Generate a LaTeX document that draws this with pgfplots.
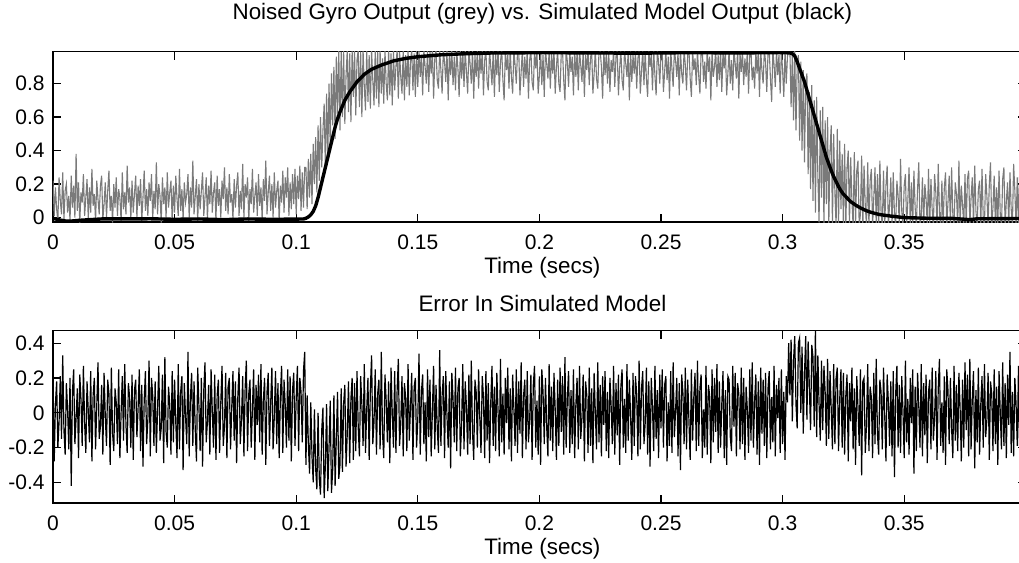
\documentclass[border=0pt]{standalone}
\usepackage{fontspec}
\setmainfont{Liberation Sans}
\usepackage{pgfplots}
\pgfplotsset{compat=1.18}

\pgfplotsset{
  mlab/.style={
    scale only axis, width=486.4pt, anchor=south west,
    xmin=0, xmax=0.4,
    axis line style={line width=0.8pt},
    tick align=inside, tick pos=both, major tick length=4pt,
    every tick/.style={black, line width=0.6pt},
    xtick={0,0.05,0.1,0.15,0.2,0.25,0.3,0.35},
    xticklabels={0,0.05,0.1,0.15,0.2,0.25,0.3,0.35},
    xticklabel style={font=\fontsize{10.5}{12}\selectfont, inner sep=0pt, yshift=-6.3pt},
    yticklabel style={font=\fontsize{10.5}{12}\selectfont, inner sep=0pt, xshift=-4pt},
    xlabel={Time (secs)},
    xlabel style={at={(axis description cs:0.5,0)}, anchor=center, yshift=-22.8pt,
      xshift=1.5pt, font=\fontsize{11.2}{13}\selectfont},
    title style={at={(axis description cs:0.5,1)}, anchor=center, xshift=1.5pt,
      font=\fontsize{11.2}{13}\selectfont},
  }
}

\begin{document}
\begin{tikzpicture}
\useasboundingbox (0,0) rectangle (509.5pt,281.5pt);

% top: noised gyro output (grey) and model output (black), one sample each 0.5 ms
\begin{axis}[mlab, at={(26.5pt,170.35pt)}, height=85.3pt,
  ymin=-0.028, ymax=0.99,
  ytick={0,0.2,0.4,0.6,0.8}, yticklabels={0,0.2,0.4,0.6,0.8},
  title={Noised Gyro Output (grey) vs. Simulated Model Output (black)},
  title style={yshift=12.85pt}]
\addplot[black!52, line width=0.55pt] table[x expr=\coordindex*0.0005, y index=0, header=false, row sep=\\] {
0.22\\0.01\\0.18\\0.05\\-0.02\\0.24\\0.10\\0.02\\0.27\\-0.01\\
0.16\\0.20\\0.03\\0.13\\-0.02\\0.25\\0.06\\0.19\\0.00\\0.38\\
0.04\\0.21\\-0.03\\0.15\\0.09\\0.26\\0.01\\0.12\\0.23\\-0.01\\
0.18\\0.03\\0.29\\0.07\\0.14\\-0.02\\0.22\\0.11\\0.02\\0.19\\
0.25\\-0.01\\0.08\\0.21\\0.00\\0.16\\0.28\\0.04\\0.13\\-0.03\\
0.20\\0.06\\0.24\\0.01\\0.17\\0.12\\-0.02\\0.27\\0.05\\0.15\\
0.02\\0.31\\0.09\\0.18\\-0.01\\0.22\\0.03\\0.14\\0.25\\0.00\\
0.19\\0.07\\0.23\\-0.02\\0.12\\0.28\\0.04\\0.17\\0.01\\0.21\\
0.10\\0.26\\-0.01\\0.16\\0.05\\0.33\\0.02\\0.20\\0.13\\-0.03\\
0.24\\0.08\\0.18\\0.00\\0.27\\0.06\\0.15\\0.22\\-0.02\\0.19\\
0.03\\0.25\\0.11\\0.01\\0.29\\0.04\\0.17\\-0.01\\0.21\\0.09\\
0.14\\0.26\\0.00\\0.18\\0.06\\0.34\\0.02\\0.13\\0.23\\-0.02\\
0.20\\0.05\\0.16\\0.27\\0.01\\0.12\\0.24\\-0.01\\0.19\\0.08\\
0.28\\0.03\\0.15\\0.21\\-0.02\\0.25\\0.07\\0.17\\0.00\\0.22\\
0.11\\0.30\\0.04\\0.18\\0.02\\0.26\\0.09\\0.14\\-0.01\\0.23\\
0.06\\0.19\\0.27\\0.01\\0.16\\0.05\\0.32\\0.00\\0.20\\0.12\\
0.24\\-0.02\\0.17\\0.08\\0.29\\0.03\\0.13\\0.21\\0.01\\0.26\\
0.07\\0.18\\-0.01\\0.23\\0.10\\0.34\\0.02\\0.15\\0.25\\0.04\\
0.20\\0.00\\0.27\\0.06\\0.16\\0.22\\-0.02\\0.19\\0.09\\0.28\\
0.03\\0.24\\0.12\\0.30\\0.01\\0.21\\0.05\\0.26\\0.08\\0.29\\
0.02\\0.25\\0.11\\0.31\\0.04\\0.27\\0.06\\0.30\\
0.30\\0.05\\0.35\\0.12\\0.38\\0.08\\0.44\\0.20\\0.48\\0.15\\
0.55\\0.22\\0.60\\0.30\\0.52\\0.68\\0.28\\0.74\\0.36\\0.80\\
0.42\\0.86\\0.55\\0.90\\0.47\\0.96\\0.62\\1.0\\0.52\\0.99\\
0.60\\1.0\\0.56\\0.85\\1.0\\0.63\\0.98\\0.57\\1.0\\0.72\\
1.0\\0.61\\0.94\\1.0\\0.66\\0.99\\0.60\\1.0\\0.78\\0.64\\
1.0\\0.69\\0.97\\0.65\\1.0\\0.82\\0.67\\1.0\\0.71\\0.99\\
0.66\\1.0\\0.74\\0.95\\0.68\\1.0\\0.80\\0.70\\1.0\\0.73\\
0.98\\0.67\\1.0\\0.76\\0.90\\1.0\\0.71\\0.99\\0.84\\0.74\\
1.0\\0.70\\0.97\\0.78\\1.0\\0.73\\0.93\\1.0\\0.76\\0.98\\
0.72\\1.0\\
0.78\\1.0\\0.84\\0.97\\0.73\\1.0\\0.90\\0.80\\1.0\\0.75\\
0.99\\0.86\\1.0\\0.71\\0.95\\1.0\\0.82\\0.77\\1.0\\0.88\\
0.74\\1.0\\0.93\\0.81\\1.0\\0.70\\0.98\\0.85\\1.0\\0.79\\
0.96\\0.76\\1.0\\0.89\\0.72\\1.0\\0.83\\0.99\\0.78\\1.0\\
0.87\\0.74\\1.0\\0.92\\0.80\\1.0\\0.71\\0.97\\0.84\\1.0\\
0.77\\0.99\\0.86\\1.0\\0.73\\0.94\\1.0\\0.81\\0.76\\1.0\\
0.90\\0.79\\1.0\\0.72\\0.98\\0.85\\1.0\\0.75\\0.93\\1.0\\
0.82\\0.70\\1.0\\0.88\\0.97\\0.77\\1.0\\0.84\\0.74\\1.0\\
0.91\\0.80\\0.99\\1.0\\0.73\\0.87\\1.0\\0.78\\0.96\\0.83\\
1.0\\0.71\\0.94\\1.0\\0.81\\0.76\\1.0\\0.89\\0.99\\0.74\\
0.85\\1.0\\0.79\\0.97\\0.72\\1.0\\0.92\\0.83\\1.0\\0.77\\
0.98\\0.86\\1.0\\0.74\\0.90\\1.0\\0.80\\0.75\\0.99\\1.0\\
0.82\\0.70\\1.0\\0.93\\0.78\\1.0\\0.87\\0.96\\0.73\\1.0\\
0.84\\0.99\\0.76\\1.0\\0.91\\0.81\\1.0\\0.72\\0.97\\0.88\\
1.0\\0.79\\0.95\\1.0\\0.74\\0.86\\1.0\\0.83\\0.77\\0.99\\
1.0\\0.90\\0.71\\1.0\\0.85\\0.98\\0.80\\1.0\\0.75\\0.94\\
0.87\\1.0\\0.78\\0.96\\1.0\\0.73\\0.89\\1.0\\0.82\\0.76\\
1.0\\0.92\\0.84\\0.99\\0.70\\1.0\\0.81\\0.97\\0.86\\1.0\\
0.77\\0.95\\1.0\\0.74\\0.88\\1.0\\0.79\\0.99\\0.83\\0.72\\
1.0\\0.90\\0.97\\0.76\\1.0\\0.85\\0.73\\1.0\\0.93\\0.80\\
0.98\\1.0\\0.75\\0.87\\1.0\\0.82\\0.96\\0.71\\1.0\\0.89\\
0.78\\1.0\\0.94\\0.84\\0.99\\0.73\\1.0\\0.86\\0.80\\1.0\\
0.91\\0.76\\0.98\\1.0\\0.83\\0.72\\1.0\\0.88\\0.95\\0.79\\
1.0\\0.85\\0.74\\0.99\\1.0\\0.81\\0.93\\0.77\\1.0\\0.87\\
0.96\\0.70\\1.0\\0.84\\0.90\\1.0\\0.78\\0.97\\0.82\\1.0\\
0.75\\0.99\\0.89\\1.0\\0.73\\0.86\\1.0\\0.80\\0.94\\0.76\\
1.0\\0.92\\0.83\\1.0\\0.71\\0.98\\0.87\\1.0\\0.79\\0.95\\
0.84\\1.0\\0.74\\0.97\\1.0\\0.82\\0.90\\0.77\\1.0\\0.86\\
0.99\\0.72\\1.0\\0.88\\0.80\\1.0\\0.93\\0.75\\0.98\\1.0\\
0.83\\0.69\\1.0\\0.91\\0.78\\1.0\\0.85\\0.97\\0.74\\1.0\\
0.88\\0.72\\1.0\\0.80\\0.96\\1.0\\
1.0\\0.66\\0.98\\0.58\\1.0\\0.52\\0.90\\0.97\\0.46\\0.93\\
0.40\\0.88\\0.33\\0.80\\0.86\\0.26\\0.75\\0.17\\0.79\\0.10\\
0.70\\0.03\\0.72\\0.25\\-0.03\\0.64\\0.12\\0.66\\-0.05\\0.58\\
0.08\\0.60\\-0.05\\0.40\\0.55\\-0.05\\0.50\\0.15\\-0.05\\0.53\\
-0.05\\0.46\\0.05\\0.38\\-0.05\\0.44\\-0.05\\0.30\\0.40\\-0.05\\
0.36\\0.10\\-0.05\\0.39\\-0.05\\0.28\\0.34\\-0.05\\0.02\\0.37\\
-0.05\\0.31\\0.07\\-0.05\\0.33\\-0.05\\0.22\\0.29\\-0.05\\0.12\\
0.30\\-0.05\\0.26\\-0.05\\0.34\\0.03\\-0.05\\0.28\\-0.05\\0.19\\
0.31\\-0.05\\0.08\\0.24\\-0.05\\0.27\\0.02\\-0.05\\0.22\\0.13\\
-0.05\\0.35\\0.04\\-0.05\\0.19\\0.26\\-0.05\\0.10\\0.30\\-0.05\\
0.21\\-0.05\\0.28\\0.06\\-0.05\\0.17\\0.33\\-0.05\\0.01\\0.24\\
-0.05\\0.20\\0.11\\-0.05\\0.29\\-0.05\\0.23\\0.05\\-0.05\\0.26\\
0.15\\-0.05\\0.32\\0.03\\-0.05\\0.22\\-0.05\\0.18\\0.27\\-0.05\\
0.09\\0.25\\-0.05\\0.30\\0.02\\-0.05\\0.21\\0.14\\-0.05\\0.34\\
-0.05\\0.19\\0.07\\-0.05\\0.26\\-0.05\\0.23\\0.28\\-0.05\\0.12\\
0.24\\-0.05\\0.31\\0.04\\-0.05\\0.17\\0.22\\-0.05\\0.29\\0.00\\
-0.05\\0.26\\0.13\\-0.05\\0.20\\0.33\\-0.05\\0.06\\0.25\\-0.05\\
0.18\\-0.05\\0.28\\0.02\\-0.05\\0.23\\0.30\\-0.05\\0.10\\0.21\\
-0.05\\0.27\\0.05\\-0.05\\0.32\\0.16\\-0.05\\0.24\\-0.05\\0.29\\
0.08\\-0.05\\0.22\\0.19\\-0.05\\
};
\addplot[black, line width=1.7pt] coordinates {
(0,-0.004) (0.002,-0.012) (0.005,-0.02) (0.008,-0.02) (0.011,-0.016)
(0.02,-0.008) (0.03,-0.008) (0.04,-0.007) (0.05,-0.01) (0.06,-0.008)
(0.07,-0.012) (0.08,-0.008) (0.09,-0.01) (0.1,-0.009) (0.103,-0.008)
(0.104,-0.004) (0.105,0.004) (0.106,0.017) (0.107,0.037) (0.108,0.07)
(0.109,0.12) (0.110,0.18) (0.111,0.24) (0.112,0.30) (0.113,0.36)
(0.114,0.42) (0.115,0.48) (0.116,0.54) (0.117,0.59) (0.118,0.63)
(0.119,0.665) (0.120,0.70) (0.122,0.75) (0.125,0.81) (0.128,0.855)
(0.131,0.885) (0.135,0.91) (0.14,0.935) (0.145,0.95) (0.15,0.96)
(0.16,0.972) (0.17,0.978) (0.18,0.982) (0.2,0.984) (0.22,0.983)
(0.24,0.981) (0.26,0.984) (0.28,0.983) (0.30,0.984) (0.303,0.983)
(0.304,0.978) (0.305,0.965) (0.306,0.93) (0.307,0.89) (0.308,0.85)
(0.309,0.81) (0.310,0.76) (0.311,0.71) (0.312,0.66) (0.313,0.61)
(0.314,0.56) (0.315,0.51) (0.316,0.46) (0.317,0.41) (0.318,0.36)
(0.319,0.32) (0.320,0.28) (0.321,0.245) (0.322,0.215) (0.323,0.185)
(0.324,0.16) (0.325,0.14) (0.326,0.125) (0.327,0.11) (0.328,0.095)
(0.330,0.075) (0.332,0.058) (0.334,0.044) (0.336,0.033) (0.338,0.025)
(0.340,0.018) (0.345,0.008) (0.35,0.0) (0.36,-0.004) (0.37,-0.005)
(0.377,-0.012) (0.38,-0.007) (0.39,-0.006) (0.4,-0.005)
};
\end{axis}

% bottom: model error, one sample each 0.5 ms
\begin{axis}[mlab, at={(26.5pt,30.15pt)}, height=86pt,
  ymin=-0.517, ymax=0.472,
  ytick={-0.4,-0.2,0,0.2,0.4}, yticklabels={-0.4,-0.2,0,0.2,0.4},
  title={Error In Simulated Model},
  title style={yshift=7.35pt}]
\addplot[black, line width=0.6pt] table[x expr=\coordindex*0.0005, y index=0, header=false, row sep=\\] {
0.22\\-0.28\\0.05\\0.18\\-0.20\\-0.05\\0.21\\-0.15\\0.33\\-0.10\\
-0.24\\0.17\\0.02\\-0.21\\0.20\\-0.42\\0.12\\0.25\\-0.18\\-0.03\\
0.14\\-0.26\\0.22\\0.08\\-0.19\\0.27\\-0.06\\-0.23\\0.18\\0.01\\
-0.17\\0.24\\-0.28\\0.10\\0.20\\-0.21\\0.04\\0.29\\-0.15\\-0.08\\
0.16\\-0.24\\0.23\\-0.02\\-0.19\\0.19\\0.11\\-0.30\\0.26\\-0.12\\
-0.22\\0.14\\0.06\\-0.18\\0.25\\-0.26\\0.00\\0.21\\-0.16\\0.28\\
-0.07\\-0.23\\0.17\\0.09\\-0.20\\0.22\\-0.27\\0.13\\0.19\\-0.14\\
0.03\\0.25\\-0.22\\0.16\\-0.31\\0.07\\0.24\\-0.18\\-0.04\\0.30\\
-0.25\\0.20\\0.10\\-0.19\\0.18\\-0.23\\0.02\\0.27\\-0.16\\-0.09\\
0.22\\-0.29\\0.32\\-0.11\\-0.20\\0.15\\0.05\\-0.24\\0.24\\-0.17\\
0.19\\-0.06\\-0.26\\0.28\\-0.21\\0.12\\0.21\\-0.33\\0.17\\-0.02\\
-0.18\\0.35\\-0.25\\0.08\\0.23\\-0.19\\0.18\\-0.10\\-0.28\\0.26\\
0.04\\-0.22\\0.20\\-0.31\\0.13\\0.29\\-0.17\\-0.05\\0.16\\-0.24\\
0.25\\0.01\\-0.20\\0.22\\-0.27\\0.10\\0.19\\-0.23\\0.06\\0.27\\
-0.19\\-0.08\\0.23\\-0.26\\0.15\\0.20\\-0.21\\0.03\\0.24\\-0.16\\
0.18\\-0.29\\0.09\\0.26\\-0.18\\-0.04\\0.21\\-0.25\\0.14\\0.30\\
-0.22\\0.11\\0.19\\-0.20\\0.02\\0.25\\-0.27\\0.16\\-0.07\\0.22\\
-0.17\\0.28\\-0.24\\0.07\\0.20\\-0.30\\0.12\\0.23\\-0.19\\0.05\\
0.26\\-0.21\\-0.02\\0.24\\-0.18\\0.17\\-0.26\\0.10\\0.27\\-0.23\\
0.19\\0.04\\-0.20\\0.25\\-0.16\\0.21\\-0.28\\0.13\\0.23\\-0.19\\
0.08\\0.27\\-0.22\\0.20\\0.12\\-0.17\\0.24\\0.35\\
-0.30\\0.10\\-0.18\\-0.35\\0.06\\-0.25\\-0.40\\0.02\\-0.32\\-0.44\\
0.00\\-0.38\\-0.47\\-0.10\\0.03\\-0.49\\-0.30\\0.05\\-0.45\\-0.20\\
0.07\\-0.46\\-0.33\\0.10\\-0.42\\-0.15\\0.12\\-0.38\\-0.30\\0.14\\
-0.34\\0.05\\0.16\\-0.31\\-0.12\\0.18\\-0.29\\0.08\\0.20\\-0.27\\
0.17\\-0.22\\0.24\\-0.08\\-0.25\\0.21\\0.05\\-0.19\\0.28\\-0.23\\
0.02\\0.20\\-0.27\\0.14\\0.33\\-0.18\\-0.05\\0.25\\-0.24\\0.11\\
0.19\\-0.21\\0.35\\-0.12\\-0.26\\0.22\\0.07\\-0.17\\0.18\\-0.29\\
0.26\\0.00\\-0.20\\0.24\\-0.23\\0.13\\0.31\\-0.19\\-0.06\\0.21\\
-0.25\\0.17\\0.09\\-0.22\\0.28\\-0.16\\0.03\\0.23\\-0.27\\0.15\\
0.20\\-0.20\\-0.04\\0.34\\-0.24\\0.12\\0.22\\-0.18\\0.06\\-0.28\\
0.25\\-0.14\\0.19\\-0.25\\0.01\\0.27\\-0.21\\0.16\\-0.09\\-0.23\\
0.36\\-0.19\\0.10\\0.21\\-0.26\\0.24\\-0.02\\-0.20\\0.18\\-0.32\\
0.23\\0.08\\-0.17\\0.26\\-0.22\\0.14\\0.20\\-0.25\\-0.07\\0.28\\
-0.21\\0.18\\0.04\\-0.24\\0.22\\-0.18\\0.30\\-0.11\\-0.27\\0.19\\
0.12\\-0.20\\0.25\\-0.03\\-0.23\\0.21\\0.09\\-0.26\\0.24\\-0.16\\
0.17\\-0.29\\0.06\\0.27\\-0.19\\0.15\\-0.22\\0.23\\0.01\\-0.25\\
0.31\\-0.17\\0.11\\-0.24\\0.20\\-0.06\\0.26\\-0.21\\0.14\\-0.28\\
0.22\\0.03\\-0.19\\0.25\\-0.23\\0.18\\-0.12\\0.29\\-0.26\\0.10\\
0.19\\-0.21\\0.24\\-0.17\\-0.04\\0.22\\-0.27\\0.16\\0.27\\-0.20\\
0.07\\-0.24\\0.21\\-0.30\\0.25\\0.12\\-0.18\\0.20\\-0.08\\-0.25\\
0.28\\-0.16\\0.15\\-0.22\\0.23\\0.02\\-0.27\\0.19\\-0.19\\0.26\\
-0.11\\0.21\\-0.24\\0.32\\-0.20\\0.09\\0.24\\-0.23\\0.13\\-0.18\\
0.25\\-0.26\\0.05\\0.20\\-0.21\\0.27\\-0.15\\-0.03\\0.22\\-0.28\\
0.18\\0.10\\-0.23\\0.26\\-0.19\\0.14\\-0.29\\0.23\\0.00\\-0.21\\
0.29\\-0.17\\0.16\\-0.25\\0.21\\-0.07\\0.24\\-0.22\\0.12\\-0.26\\
0.20\\0.04\\-0.18\\0.27\\-0.24\\0.17\\-0.13\\0.22\\-0.30\\0.15\\
0.25\\-0.20\\0.08\\-0.23\\0.28\\-0.16\\0.19\\-0.02\\-0.27\\0.23\\
-0.19\\0.21\\0.11\\-0.25\\0.30\\-0.21\\0.14\\0.24\\-0.18\\-0.06\\
0.26\\-0.24\\0.18\\-0.31\\0.20\\0.03\\-0.22\\0.27\\-0.15\\0.13\\
-0.26\\0.22\\-0.09\\0.25\\-0.20\\0.16\\0.21\\-0.28\\0.06\\-0.19\\
0.24\\-0.23\\0.29\\-0.14\\0.01\\0.20\\-0.25\\0.17\\-0.33\\0.22\\
0.12\\-0.18\\0.26\\-0.21\\0.19\\-0.05\\-0.27\\0.25\\-0.16\\0.09\\
0.23\\-0.22\\0.30\\-0.19\\0.14\\0.22\\-0.26\\0.02\\-0.20\\0.27\\
-0.24\\0.16\\0.10\\-0.29\\0.25\\-0.17\\0.20\\-0.11\\0.28\\-0.23\\
0.18\\-0.20\\0.05\\0.24\\-0.26\\0.13\\-0.30\\0.21\\0.19\\-0.14\\
-0.22\\0.27\\-0.08\\0.23\\-0.25\\0.17\\0.11\\-0.21\\0.26\\-0.18\\
0.20\\-0.27\\0.15\\0.02\\-0.23\\0.25\\-0.16\\0.29\\-0.20\\0.07\\
0.22\\-0.24\\0.18\\-0.30\\0.26\\-0.12\\0.19\\-0.19\\0.23\\-0.26\\
0.14\\0.24\\-0.21\\0.09\\-0.17\\0.27\\-0.25\\0.16\\-0.03\\0.20\\
-0.23\\0.25\\-0.18\\0.12\\-0.27\\0.21\\0.06\\0.40\\
0.10\\0.42\\-0.05\\0.30\\0.44\\0.05\\-0.09\\0.40\\0.43\\0.00\\
0.38\\-0.12\\0.22\\0.44\\-0.04\\0.41\\0.15\\-0.10\\0.39\\0.32\\
-0.08\\0.48\\
-0.14\\0.33\\0.05\\-0.16\\0.30\\-0.10\\0.27\\0.12\\-0.19\\0.31\\
-0.15\\0.24\\0.02\\-0.21\\0.28\\-0.18\\0.20\\0.26\\-0.22\\0.08\\
0.25\\-0.20\\0.23\\
-0.24\\0.10\\0.22\\-0.28\\0.17\\-0.05\\0.26\\-0.21\\0.14\\-0.30\\
0.21\\0.03\\-0.19\\0.25\\-0.36\\0.18\\0.20\\-0.23\\-0.07\\0.28\\
-0.22\\0.15\\0.09\\-0.26\\0.23\\-0.18\\0.31\\-0.12\\-0.24\\0.19\\
0.12\\-0.21\\0.26\\-0.02\\-0.28\\0.22\\0.06\\-0.19\\0.18\\-0.25\\
0.24\\-0.37\\0.11\\0.27\\-0.20\\0.16\\-0.23\\0.21\\0.01\\-0.26\\
0.30\\-0.17\\0.08\\-0.24\\0.20\\-0.06\\0.25\\-0.35\\0.15\\-0.22\\
0.23\\0.04\\-0.20\\0.28\\-0.25\\0.17\\-0.13\\0.22\\-0.29\\0.12\\
0.19\\-0.21\\0.26\\-0.16\\-0.03\\0.24\\-0.27\\0.14\\0.31\\-0.19\\
0.06\\-0.23\\0.21\\-0.30\\0.25\\0.13\\-0.18\\0.20\\-0.09\\-0.26\\
0.27\\-0.16\\0.16\\-0.22\\0.23\\0.02\\-0.28\\0.19\\-0.20\\0.29\\
-0.10\\0.22\\-0.25\\0.31\\-0.21\\0.08\\0.24\\-0.32\\0.13\\-0.17\\
0.26\\-0.24\\0.05\\0.21\\-0.20\\0.28\\-0.14\\-0.04\\0.23\\-0.27\\
0.18\\0.11\\-0.22\\0.25\\-0.18\\0.15\\-0.30\\0.24\\0.00\\-0.21\\
0.29\\-0.19\\0.17\\-0.26\\0.22\\-0.07\\0.35\\-0.23\\0.12\\-0.25\\
0.20\\0.05\\-0.19\\0.27\\-0.24\\0.16\\-0.12\\0.33\\-0.28\\0.21\\
};
\end{axis}
\end{tikzpicture}
\end{document}
